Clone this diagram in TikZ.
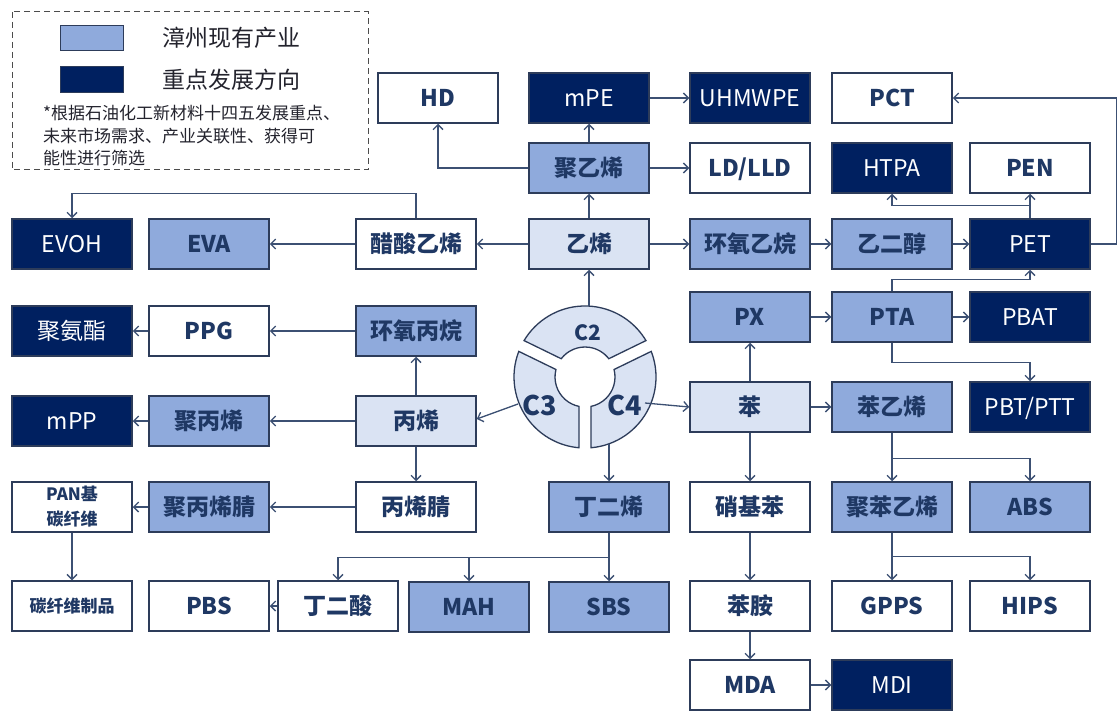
\documentclass[tikz,border=0pt]{standalone}
\usepackage{fontspec}
\setmainfont{Noto Sans CJK SC}
\usetikzlibrary{arrows.meta,calc}
\definecolor{lightb}{RGB}{218,227,243}
\definecolor{medb}{RGB}{143,170,220}
\definecolor{darkb}{RGB}{0,32,96}
\definecolor{txtblue}{RGB}{31,56,100}
\definecolor{bordercol}{RGB}{45,60,90}
\definecolor{linecol}{RGB}{60,80,115}
\definecolor{legtxt}{RGB}{35,35,45}
\newcommand\fbig{\fontsize{23}{26}\selectfont}
\begin{document}
\begin{tikzpicture}[x=1pt,y=-1pt,
  base/.style={draw=bordercol, line width=1.5pt, minimum width=120pt, minimum height=50pt, inner sep=0pt},
  one/.style={text height=17pt, text depth=0pt},
  wbox/.style={base, one, fill=white, text=txtblue, font=\fbig\bfseries},
  lbox/.style={base, one, fill=lightb, text=txtblue, font=\fbig\bfseries},
  mbox/.style={base, one, fill=medb, text=txtblue, font=\fbig\bfseries},
  dbox/.style={base, one, fill=darkb, text=white, font=\fbig},
  arr/.style={draw=linecol, line width=1.3pt, -{Straight Barb[length=5pt,width=10pt]}},
  seg/.style={fill=lightb, draw=bordercol, line width=1.3pt},
  clab/.style={text=txtblue, font=\bfseries, inner sep=0pt}
]
\useasboundingbox (0,0) rectangle (1118,711);
\fill[white] (0,0) rectangle (1118,711);

% legend
\draw[draw=black!70, line width=1pt, dash pattern=on 6pt off 4pt] (12,12) rectangle (368,170);
\draw[fill=medb, draw=bordercol, line width=0.8pt] (60,25) rectangle (123,50);
\draw[fill=darkb, draw=bordercol, line width=0.8pt] (60,66) rectangle (123,92);
\node[anchor=west, inner sep=0pt, text=legtxt, font=\fbig] (leg1) at (162,38) {漳州现有产业};
\node[anchor=west, inner sep=0pt, text=legtxt, font=\fbig] (leg2) at (162,80) {重点发展方向};
\node[anchor=north west, inner sep=0pt, align=left, text=legtxt, font=\fontsize{17}{22.5}\selectfont] (note) at (43,105)
  {*根据石油化工新材料十四五发展重点、\\未来市场需求、产业关联性、获得可\\能性进行筛选};

% circle
\begin{scope}[shift={(585,377)}, yscale=-1]
  \path[seg] (30.85:71) arc[start angle=30.85, end angle=149.15, radius=71]
     -- (142.46:30) arc[start angle=142.46, end angle=37.54, radius=30] -- cycle;
  \path[seg] (158.85:71) arc[start angle=158.85, end angle=265.15, radius=71]
     -- (258.46:30) arc[start angle=258.46, end angle=165.54, radius=30] -- cycle;
  \path[seg] (274.85:71) arc[start angle=274.85, end angle=381.15, radius=71]
     -- (374.46:30) arc[start angle=374.46, end angle=281.54, radius=30] -- cycle;
\end{scope}
\node[clab, font=\fontsize{21}{24}\selectfont\bfseries] (c2) at (588,333) {C2};
\node[clab, font=\fontsize{27}{30}\selectfont\bfseries] (c3) at (540,405) {C3};
\node[clab, font=\fontsize{27}{30}\selectfont\bfseries] (c4) at (625,405) {C4};
\coordinate (c2t) at (589,306);
\coordinate (c3p) at (518,404);
\coordinate (c4p) at (645,403);
\coordinate (c4b) at (609,444);

% nodes
\node[wbox] (hd) at (438,98) {HD};
\node[dbox] (mpe) at (589,98) {mPE};
\node[dbox] (uhmw) at (750,98) {UHMWPE};
\node[wbox] (pct) at (892,98) {PCT};
\node[mbox] (pe) at (589,168) {聚乙烯};
\node[wbox] (ld) at (750,168) {LD/LLD};
\node[dbox] (htpa) at (892,168) {HTPA};
\node[wbox] (pen) at (1030,168) {PEN};
\node[dbox] (evoh) at (72,244) {EVOH};
\node[mbox] (eva) at (209,244) {EVA};
\node[wbox] (va) at (416,244) {醋酸乙烯};
\node[lbox] (ethy) at (589,244) {乙烯};
\node[mbox] (eo) at (750,244) {环氧乙烷};
\node[mbox] (eg) at (892,244) {乙二醇};
\node[dbox] (pet) at (1030,244) {PET};
\node[dbox] (pu) at (72,331) {聚氨酯};
\node[wbox] (ppg) at (209,331) {PPG};
\node[mbox] (po) at (416,331) {环氧丙烷};
\node[mbox] (px) at (750,317) {PX};
\node[mbox] (pta) at (892,317) {PTA};
\node[dbox] (pbat) at (1030,317) {PBAT};
\node[dbox] (mpp) at (72,421) {mPP};
\node[mbox] (pp) at (209,421) {聚丙烯};
\node[lbox] (prop) at (416,421) {丙烯};
\node[lbox] (benz) at (750,407) {苯};
\node[mbox] (sty) at (892,407) {苯乙烯};
\node[dbox] (pbt) at (1030,407) {PBT/PTT};
\node[base, fill=white, text=txtblue, align=center, font=\fontsize{17}{25}\selectfont\bfseries] (panc) at (72,507) {PAN基\\碳纤维};
\node[mbox] (pan) at (209,507) {聚丙烯腈};
\node[wbox] (an) at (416,507) {丙烯腈};
\node[mbox] (bd) at (609,507) {丁二烯};
\node[wbox] (nb) at (750,507) {硝基苯};
\node[mbox] (ps) at (892,507) {聚苯乙烯};
\node[mbox] (abs) at (1030,507) {ABS};
\node[wbox, font=\fontsize{17}{20}\selectfont\bfseries, text height=13pt] (cf) at (72,606) {碳纤维制品};
\node[wbox] (pbs) at (209,606) {PBS};
\node[wbox] (sa) at (338,606) {丁二酸};
\node[mbox] (mah) at (469,607) {MAH};
\node[mbox] (sbs) at (609,607) {SBS};
\node[wbox] (anil) at (750,606) {苯胺};
\node[wbox] (gpps) at (892,606) {GPPS};
\node[wbox] (hips) at (1030,606) {HIPS};
\node[wbox] (mda) at (750,685) {MDA};
\node[dbox] (mdi) at (892,685) {MDI};

% connectors
\draw[arr] (c2t) -- (ethy.south);
\draw[arr] (c3p) -- ([yshift=2pt]prop.east);
\draw[arr] (c4p) -- (benz.west);
\draw[arr] (c4b) -- (bd.north);

\draw[arr] (ethy) -- (va);
\draw[arr] (ethy) -- (eo);
\draw[arr] (ethy) -- (pe);
\draw[arr] (pe) -- (mpe);
\draw[arr] (pe) -- (ld);
\draw[arr] (mpe) -- (uhmw);
\draw[arr] (pe.west) -| (hd.south);
\draw[arr] (va) -- (eva);
\draw[arr] (va.north) -- ++(0,-25) -| (evoh.north);
\draw[arr] (eo) -- (eg);
\draw[arr] (eg) -- (pet);
\draw[arr] (pet.east) -- ++(26,0) |- (pct.east);
\draw[arr] (pet) -- (pen);
\draw[arr] ($(pet.north)+(0,-13)$) -| (htpa.south);
\draw[arr] (pta.north) -- ++(0,-12) -| (pet.south);
\draw[arr] (px) -- (pta);
\draw[arr] (pta) -- (pbat);
\draw[arr] (pta.south) -- ++(0,20) -| (pbt.north);
\draw[arr] (benz) -- (px);
\draw[arr] (benz) -- (sty);
\draw[arr] (benz) -- (nb);
\draw[arr] (nb) -- (anil);
\draw[arr] (anil) -- (mda);
\draw[arr] (mda) -- (mdi);
\draw[arr] (sty) -- (ps);
\draw[arr] ($(sty.south)+(0,26)$) -| (abs.north);
\draw[arr] (ps) -- (gpps);
\draw[arr] ($(ps.south)+(0,24)$) -| (hips.north);
\draw[arr] (po) -- (ppg);
\draw[arr] (ppg) -- (pu);
\draw[arr] (prop) -- (po);
\draw[arr] (prop) -- (pp);
\draw[arr] (pp) -- (mpp);
\draw[arr] (prop) -- (an);
\draw[arr] (an) -- (pan);
\draw[arr] (pan) -- (panc);
\draw[arr] (panc) -- (cf);
\draw[arr] (bd) -- (sbs);
\draw[arr] ($(bd.south)+(0,25)$) -| (sa.north);
\draw[arr] ($(bd.south)+(0,25)$) -| (mah.north);
\draw[arr] (sa) -- (pbs);
\end{tikzpicture}
\end{document}
